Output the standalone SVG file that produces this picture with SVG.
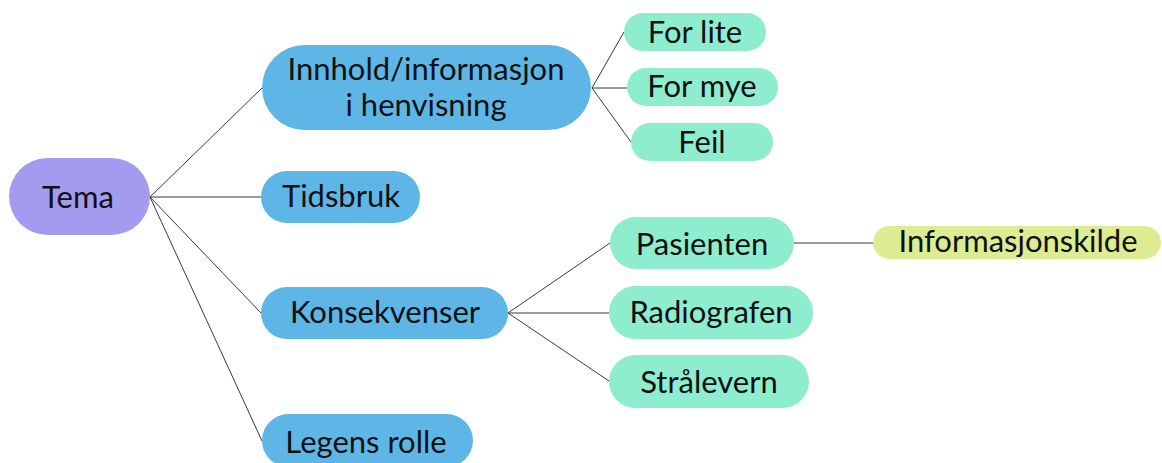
<svg xmlns="http://www.w3.org/2000/svg" width="1162" height="463" viewBox="0 0 1162 463">
<style>
.t{font-family:Lato,"Open Sans",sans-serif;font-size:31px;fill:#111;text-anchor:middle}
.root{fill:#A29BEF}
.l1{fill:#5EB6E6}
.l2{fill:#8EEDCF}
.l3{fill:#DDEC92}
.c{stroke:#3a3a3a;stroke-width:1;fill:none}
</style>
<rect width="1162" height="463" fill="#fff"/>
<g id="connectors">
<line class="c" x1="150" y1="197" x2="262" y2="88"/>
<line class="c" x1="150" y1="197" x2="261" y2="197"/>
<line class="c" x1="150" y1="197" x2="261" y2="313"/>
<line class="c" x1="150" y1="197" x2="262" y2="441"/>
<line class="c" x1="592" y1="88" x2="624" y2="32"/>
<line class="c" x1="592" y1="88" x2="627" y2="88"/>
<line class="c" x1="592" y1="88" x2="631" y2="142"/>
<line class="c" x1="508" y1="313" x2="610" y2="243"/>
<line class="c" x1="508" y1="313" x2="609" y2="313"/>
<line class="c" x1="508" y1="313" x2="609" y2="381"/>
<line class="c" x1="794" y1="243" x2="873" y2="243"/>
</g>
<g id="tema"><rect class="root" x="9" y="158" width="141" height="77" rx="38.5"/><text class="t" x="78" y="208">Tema</text></g>
<g id="innhold"><rect class="l1" x="262" y="45" width="329" height="85" rx="42.5"/><text class="t" x="426" y="80">Innhold/informasjon</text><text class="t" x="426" y="116">i henvisning</text></g>
<g id="tidsbruk"><rect class="l1" x="261" y="171" width="159" height="52" rx="26"/><text class="t" x="341" y="207">Tidsbruk</text></g>
<g id="konsekvenser"><rect class="l1" x="261" y="287" width="247" height="52" rx="26"/><text class="t" x="385" y="323">Konsekvenser</text></g>
<g id="legens"><rect class="l1" x="262" y="414" width="211" height="53" rx="26.5"/><text class="t" x="366" y="453">Legens rolle</text></g>
<g id="forlite"><rect class="l2" x="624" y="13" width="142" height="38" rx="19"/><text class="t" x="695" y="43">For lite</text></g>
<g id="formye"><rect class="l2" x="627" y="68" width="151" height="38" rx="19"/><text class="t" x="702" y="97">For mye</text></g>
<g id="feil"><rect class="l2" x="631" y="123" width="142" height="38" rx="19"/><text class="t" x="702" y="153">Feil</text></g>
<g id="pasienten"><rect class="l2" x="610" y="217" width="184" height="52" rx="26"/><text class="t" x="702" y="255">Pasienten</text></g>
<g id="radiografen"><rect class="l2" x="609" y="286" width="204" height="53" rx="26.5"/><text class="t" x="711" y="323">Radiografen</text></g>
<g id="stralevern"><rect class="l2" x="609" y="355" width="200" height="53" rx="26.5"/><text class="t" x="709" y="393">Strålevern</text></g>
<g id="informasjonskilde"><rect class="l3" x="873" y="226" width="288" height="33" rx="16.5"/><text class="t" x="1018" y="252">Informasjonskilde</text></g>
</svg>
